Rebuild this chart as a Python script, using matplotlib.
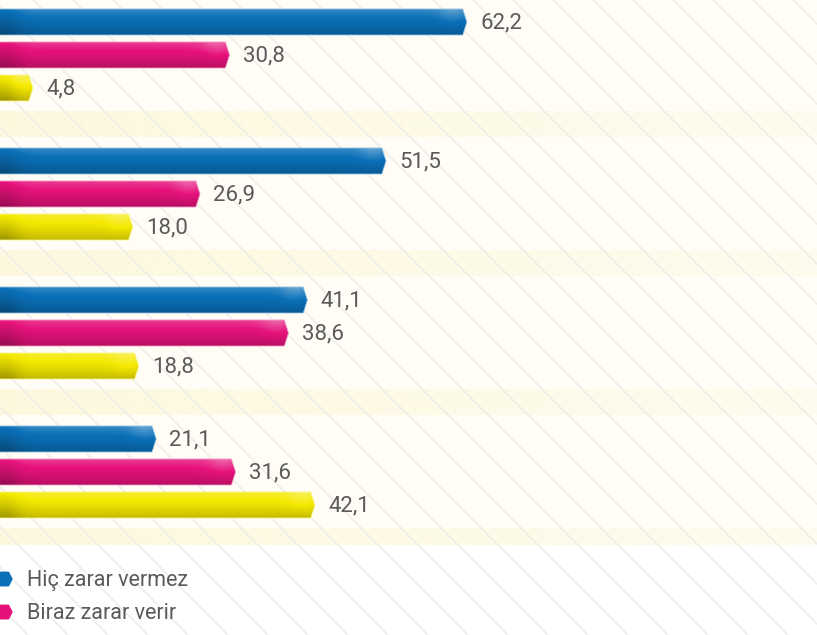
import numpy as np
import matplotlib.pyplot as plt
from matplotlib.patches import Polygon
from matplotlib.lines import Line2D
from matplotlib.colors import to_rgb
from matplotlib.transforms import IdentityTransform

# percentages per group, one list per answer
hic_zarar = [62.2, 51.5, 41.1, 21.1]
biraz_zarar = [30.8, 26.9, 38.6, 31.6]
cok_zarar = [4.8, 18.0, 18.8, 42.1]
series = [hic_zarar, biraz_zarar, cok_zarar]
series_colors = ['#0a70b8', '#e6127b', '#f5e900']
legend_labels = ['Hiç zarar vermez', 'Biraz zarar verir']

plt.rcParams['font.family'] = ['Roboto', 'DejaVu Sans']

W, H = 817, 635
GAP = 139 / 33      # distance between groups (in bar slots)
BAR_H = 0.79
TIP = 0.55
TEXT_C = '#5a5a5a'


def fmt(v):
    return f'{v:.1f}'.replace('.', ',')


def shade(color, x0, x1, n=120, m=40):
    base = np.array(to_rgb(color))
    t = np.linspace(0, 1, m)[:, None]
    xs = np.linspace(x0, x1, n)[None, :]
    # lighter top, darker bottom
    k = 1.0 + 0.10 * (1 - t) ** 3 - 0.20 * t ** 2
    # dark smear at the left end, soft highlight near the tip
    k = k - 0.16 * np.exp(-((xs - 0.8) / 2.2) ** 2) * (0.4 + 0.6 * t)
    k = k + 0.10 * np.exp(-((xs - (x1 - 1.6)) / 1.8) ** 2) * (1 - t)
    img = base[None, None, :] * k[:, :, None]
    light = k > 1
    img = np.where(light[:, :, None],
                   base + (1 - base) * (k[:, :, None] - 1) * 2.0,
                   img)
    return np.clip(img, 0, 1)


def draw_bar(ax, x0, x1, yc, h, color, tip=TIP, shaded=True):
    top, bot = yc - h / 2, yc + h / 2
    verts = [(x0, top), (x1 - tip, top), (x1, yc), (x1 - tip, bot), (x0, bot)]
    if not shaded:
        ax.add_patch(Polygon(verts, closed=True, facecolor=color,
                             edgecolor=color, lw=1.2, joinstyle='round',
                             zorder=3))
        return
    edge = tuple(np.array(to_rgb(color)) * 0.4 + 0.6)
    poly = Polygon(verts, closed=True, facecolor='none', edgecolor=edge,
                   lw=0.6, zorder=4)
    ax.add_patch(poly)
    im = ax.imshow(shade(color, x0, x1), extent=(x0, x1, bot, top),
                   aspect='auto', interpolation='bilinear', zorder=3)
    im.set_clip_path(poly)


fig = plt.figure(figsize=(W / 100, H / 100), dpi=100)
ax = fig.add_axes([0, 0, 1, 1])

x_left = 3.3 / 7.56
x_right = x_left + W / 7.56
y_top = -22 / 33
y_bot = y_top + H / 33
cream_end = 15.85

# background: cream block and yellow separator bands
ax.axhspan(y_top, cream_end, color='#fffdf6', lw=0, zorder=0)
band_rgb = np.array(to_rgb('#fdf8dc'))
fade = np.linspace(0.9, 0.3, 200)
band_img = np.ones((1, 200, 4))
band_img[..., :3] = band_rgb
band_img[..., 3] = fade
for g in range(4):
    b_top = g * GAP + 2.727
    b_bot = min(b_top + 0.758, cream_end)
    ax.imshow(band_img, extent=(x_left, x_right, b_bot, b_top),
              aspect='auto', interpolation='bilinear', zorder=0.5)

# diagonal pinstripes, drawn in pixels
for c in range(7 - 40 * 25, H + 40, 40):
    xa, xb = -20, W + 20
    ax.add_line(Line2D([xa, xb], [H - xa - c, H - xb - c],
                       transform=IdentityTransform(), color='#ebebe7',
                       lw=1.0, zorder=1))

# bars
for j, (vals, color) in enumerate(zip(series, series_colors)):
    ys = np.arange(len(vals)) * GAP + j
    rects = ax.barh(ys, vals, height=BAR_H, color=color)
    for r, v, y in zip(rects, vals, ys):
        r.set_visible(False)
        draw_bar(ax, -1, v, y, BAR_H, color)
        ax.text(v + 1.75, y + 0.03, fmt(v), va='center', ha='left',
                fontsize=16, color=TEXT_C)

# legend
leg_y = 16.88
for i, (lab, color) in enumerate(zip(legend_labels, series_colors)):
    y = leg_y + i
    draw_bar(ax, -1, 2.0, y, 0.40, color, tip=0.45, shaded=False)
    ax.text(4.0, y + 0.03, lab, va='center', ha='left', fontsize=15.5,
            color=TEXT_C)

ax.set_xlim(x_left, x_right)
ax.set_ylim(y_bot, y_top)
ax.set_axis_off()

fig.savefig('out.png', dpi=100, facecolor='white')
